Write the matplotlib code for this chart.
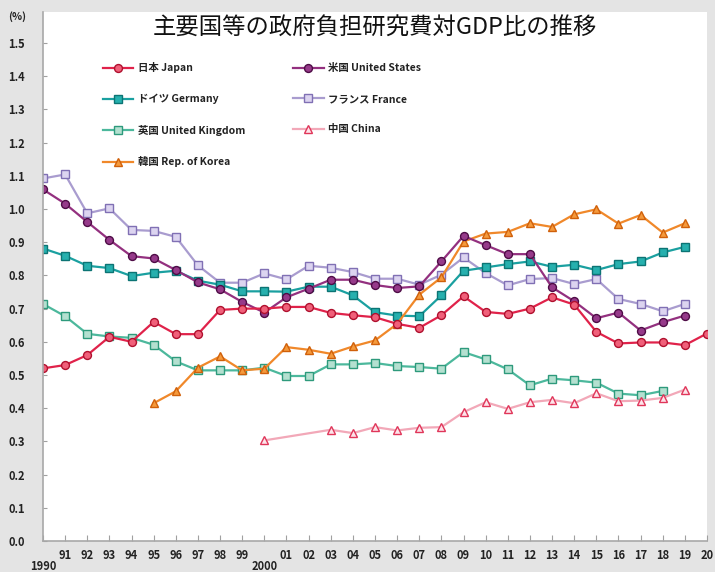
import matplotlib
matplotlib.use("Agg")
import matplotlib.pyplot as plt

plt.rcParams['font.family'] = ['Noto Sans CJK JP', 'DejaVu Sans']

years = list(range(1990, 2021))
japan = [0.52, 0.53, 0.56, 0.615, 0.60, 0.66, 0.623, 0.623, 0.696, 0.70, 0.70,
         0.705, 0.705, 0.687, 0.68, 0.674, 0.654, 0.642, 0.68, 0.737, 0.69,
         0.684, 0.70, 0.734, 0.712, 0.63, 0.595, 0.598, 0.598, 0.59, 0.625]
us_years = list(range(1990, 2020))
us = [1.059, 1.016, 0.961, 0.907, 0.858, 0.851, 0.816, 0.779, 0.758, 0.72, 0.688,
      0.734, 0.76, 0.787, 0.787, 0.771, 0.762, 0.767, 0.842, 0.919, 0.891,
      0.864, 0.864, 0.764, 0.722, 0.671, 0.688, 0.634, 0.659, 0.679]
germany_years = list(range(1990, 2020))
germany = [0.881, 0.859, 0.829, 0.822, 0.798, 0.808, 0.814, 0.784, 0.772, 0.752, 0.752,
           0.751, 0.766, 0.766, 0.74, 0.689, 0.679, 0.677, 0.74, 0.814, 0.824,
           0.834, 0.842, 0.826, 0.832, 0.816, 0.834, 0.842, 0.869, 0.886]
france_years = list(range(1990, 2020))
france = [1.092, 1.104, 0.987, 1.002, 0.937, 0.934, 0.916, 0.83, 0.778, 0.778, 0.806,
          0.788, 0.829, 0.823, 0.81, 0.79, 0.79, 0.772, 0.802, 0.854, 0.807,
          0.77, 0.789, 0.792, 0.774, 0.789, 0.729, 0.714, 0.692, 0.714]
uk_years = list(range(1990, 2019))
uk = [0.714, 0.677, 0.624, 0.616, 0.612, 0.591, 0.541, 0.514, 0.514, 0.514, 0.522,
      0.497, 0.497, 0.532, 0.532, 0.536, 0.527, 0.524, 0.519, 0.569, 0.547,
      0.517, 0.469, 0.489, 0.484, 0.477, 0.444, 0.439, 0.452]
china_years = [2000] + list(range(2003, 2020))
china = [0.303, 0.335, 0.325, 0.343, 0.333, 0.341, 0.343, 0.388, 0.418, 0.398,
         0.418, 0.425, 0.415, 0.445, 0.421, 0.423, 0.431, 0.456]
korea_years = list(range(1995, 2020))
korea = [0.415, 0.451, 0.522, 0.556, 0.514, 0.519, 0.584, 0.576, 0.564, 0.586, 0.604,
         0.654, 0.742, 0.794, 0.902, 0.926, 0.931, 0.957, 0.946, 0.984, 0.999,
         0.956, 0.982, 0.929, 0.957]

labels = {
    'japan': '日本 Japan', 'us': '米国 United States', 'germany': 'ドイツ Germany',
    'france': 'フランス France', 'uk': '英国 United Kingdom', 'china': '中国 China',
    'korea': '韓国 Rep. of Korea',
}
title = '主要国等の政府負担研究費対GDP比の推移'
yticks = [round(0.1 * i, 1) for i in range(16)]

fig = plt.figure(figsize=(7.15, 5.72), dpi=100, facecolor='#e4e4e4')
ax = fig.add_axes([43 / 715, 1 - 541 / 572, 664 / 715, 529 / 572])
ax.set_facecolor('white')

lw = 1.6
ms = 5.7
mew = 1.0
styles = [
    ('uk', uk_years, uk, '#4cb89c', 's', '#b4e0d0', '#2e9a7c'),
    ('china', china_years, china, '#f2a8b8', '^', '#fde4ea', '#e0365a'),
    ('france', france_years, france, '#a99ccf', 's', '#dcd4f0', '#8070b4'),
    ('germany', germany_years, germany, '#1aa0a0', 's', '#26b0ae', '#0c7474'),
    ('korea', korea_years, korea, '#f0882a', '^', '#f59a3c', '#d0600a'),
    ('us', us_years, us, '#93307f', 'o', '#963a8a', '#4e0c46'),
    ('japan', years, japan, '#e0224a', 'o', '#f0607a', '#b0102e'),
]
handles = {}
for key, xs, ys, c, m, fc, ec in styles:
    h, = ax.plot(xs, ys, color=c, lw=lw, marker=m, ms=ms, mfc=fc, mec=ec, mew=mew,
                 label=labels[key])
    handles[key] = h

order = ['japan', 'germany', 'uk', 'korea', 'us', 'france', 'china']
leg = ax.legend([handles[k] for k in order], [labels[k] for k in order],
                ncol=2, loc='upper left', bbox_to_anchor=(56 / 664, 1 - 46 / 529),
                frameon=False, handlelength=2.9, handletextpad=0.45,
                labelspacing=1.98, columnspacing=4.6, borderaxespad=0,
                prop={'size': 7.5, 'weight': 'bold'}, numpoints=1)
for t in leg.get_texts():
    t.set_color('#222222')

ax.set_xlim(1990, 2020)
ax.set_ylim(0, 529 / 332)
ax.set_yticks(yticks)
ax.set_yticklabels([f'{v:.1f}' for v in yticks])
ax.set_xticks(years)
xl = []
for y in years:
    if y == 1990:
        xl.append('\n1990')
    elif y == 2000:
        xl.append('\n2000')
    else:
        xl.append(f'{y % 100:02d}')
ax.set_xticklabels(xl, linespacing=0.78)
ax.tick_params(axis='both', direction='in', colors='#a0a0a0', labelcolor='#222222',
               labelsize=8)
ax.tick_params(axis='x', length=4, pad=6)
ax.tick_params(axis='y', length=3, pad=13)
for lab in ax.get_xticklabels() + ax.get_yticklabels():
    lab.set_fontweight('bold')
for s in ['top', 'right']:
    ax.spines[s].set_visible(False)
for s in ['left', 'bottom']:
    ax.spines[s].set_color('#a8a8a8')
    ax.spines[s].set_linewidth(1.2)

fig.text(375 / 715, 1 - 28 / 572, title, ha='center', va='center', fontsize=16.8,
         color='#111111')
fig.text(17 / 715, 1 - 17 / 572, '(%)', ha='center', va='center', fontsize=7.5,
         fontweight='bold', color='#222222')

fig.savefig('out.png', dpi=100, facecolor=fig.get_facecolor())
